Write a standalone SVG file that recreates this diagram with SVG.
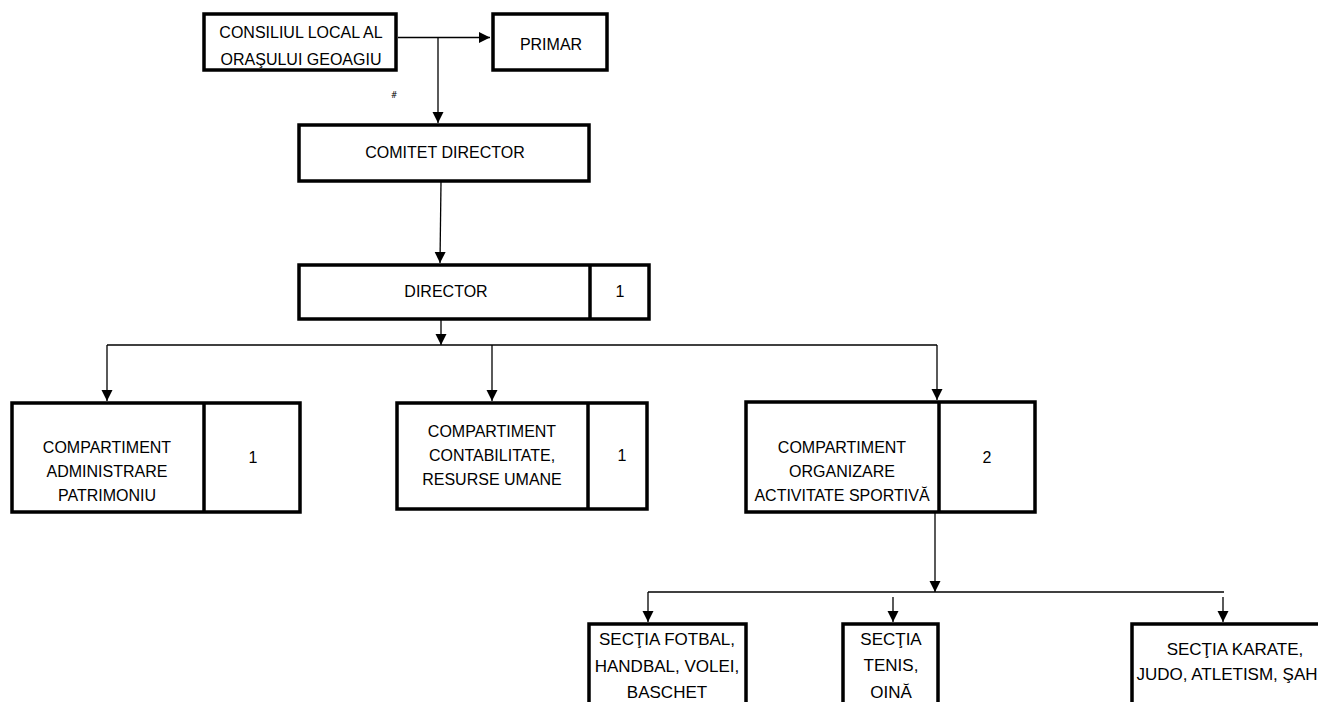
<svg xmlns="http://www.w3.org/2000/svg" width="1318" height="702" viewBox="0 0 1318 702">
<style>
.box{fill:#fff;stroke:#000;stroke-width:3.5}
.div{stroke:#000;stroke-width:3.5}
.t{font-family:"Liberation Sans",Arial,sans-serif;font-size:16px;fill:#000;text-anchor:middle}
.t2{font-family:"Liberation Sans",Arial,sans-serif;font-size:17px;fill:#000;text-anchor:middle}
.c{fill:none;stroke:#000;stroke-width:1.3}
.a{fill:none;stroke:#000;stroke-width:1.3;marker-end:url(#ah)}
</style>
<defs>
<marker id="ah" markerUnits="userSpaceOnUse" markerWidth="12" markerHeight="12" viewBox="0 0 12 12" refX="11" refY="6" orient="auto">
<path d="M0,0.5 L11,6 L0,11.5 Z" fill="#000"/>
</marker>
</defs>
<rect width="1318" height="702" fill="#fff"/>
<g id="connectors">
<path class="a" d="M398,37.5 H490"/>
<path class="a" d="M438,37.5 V123"/>
<path class="a" d="M441,182 L440,263"/>
<path class="a" d="M441,316 V345"/>
<path class="c" d="M107,345 H937"/>
<path class="a" d="M107,345 V401"/>
<path class="a" d="M492,345 V401"/>
<path class="a" d="M937,345 V400"/>
<path class="a" d="M935,513 V592"/>
<path class="c" d="M648,592 H1224"/>
<path class="a" d="M648,592 V622"/>
<path class="a" d="M893,597 V622"/>
<path class="a" d="M1223,597 V622"/>
</g>
<g id="consiliul">
<rect class="box" x="204" y="14" width="192" height="56"/>
<text class="t" x="301" y="38">CONSILIUL LOCAL AL</text>
<text class="t" x="301" y="65">ORAŞULUI GEOAGIU</text>
</g>
<g id="primar">
<rect class="box" x="493" y="14" width="114" height="56"/>
<text class="t" x="551" y="50">PRIMAR</text>
</g>
<g id="mark">
<text x="394" y="98" style="font-family:'DejaVu Sans',sans-serif;font-size:8px;text-anchor:middle">#</text>
</g>
<g id="comitet">
<rect class="box" x="299" y="125" width="290" height="56"/>
<text class="t" x="445" y="158">COMITET DIRECTOR</text>
</g>
<g id="director">
<rect class="box" x="299" y="265" width="350" height="54"/>
<line class="div" x1="590" y1="265" x2="590" y2="319"/>
<text class="t" x="446" y="297">DIRECTOR</text>
<text class="t" x="620" y="297">1</text>
</g>
<g id="admin">
<rect class="box" x="12" y="403" width="288" height="109"/>
<line class="div" x1="204" y1="403" x2="204" y2="512"/>
<text class="t" x="107" y="453">COMPARTIMENT</text>
<text class="t" x="107" y="477">ADMINISTRARE</text>
<text class="t" x="107" y="501">PATRIMONIU</text>
<text class="t" x="253" y="463">1</text>
</g>
<g id="contab">
<rect class="box" x="397" y="403" width="250" height="106"/>
<line class="div" x1="588" y1="403" x2="588" y2="509"/>
<text class="t" x="492" y="437">COMPARTIMENT</text>
<text class="t" x="492" y="461">CONTABILITATE,</text>
<text class="t" x="492" y="485">RESURSE UMANE</text>
<text class="t" x="622" y="461">1</text>
</g>
<g id="organizare">
<rect class="box" x="746" y="402" width="289" height="110"/>
<line class="div" x1="939" y1="402" x2="939" y2="512"/>
<text class="t" x="842" y="453">COMPARTIMENT</text>
<text class="t" x="842" y="477">ORGANIZARE</text>
<text class="t" x="842" y="501">ACTIVITATE SPORTIVĂ</text>
<text class="t" x="987" y="463">2</text>
</g>
<g id="fotbal">
<rect class="box" x="589" y="624" width="157" height="100"/>
<text class="t2" x="667" y="645">SECŢIA FOTBAL,</text>
<text class="t2" x="667" y="672">HANDBAL, VOLEI,</text>
<text class="t2" x="667" y="698">BASCHET</text>
</g>
<g id="tenis">
<rect class="box" x="843" y="624" width="95" height="100"/>
<text class="t2" x="891" y="645">SECŢIA</text>
<text class="t2" x="891" y="671">TENIS,</text>
<text class="t2" x="891" y="698">OINĂ</text>
</g>
<g id="karate">
<rect class="box" x="1132" y="624" width="200" height="100"/>
<text class="t2" x="1235" y="655">SECŢIA KARATE,</text>
<text class="t2" x="1227" y="680">JUDO, ATLETISM, ŞAH</text>
</g>
</svg>
